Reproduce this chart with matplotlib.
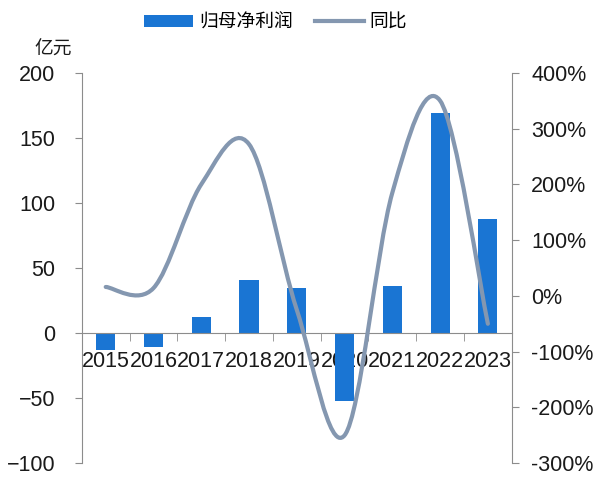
import matplotlib
matplotlib.use("Agg")
import matplotlib.pyplot as plt
from matplotlib.path import Path
from matplotlib.patches import PathPatch
from matplotlib.lines import Line2D
from matplotlib.patches import Patch
import numpy as np

plt.rcParams['font.family'] = ['Liberation Sans', 'Noto Sans CJK SC', 'DejaVu Sans']

years = ["2015", "2016", "2017", "2018", "2019", "2020", "2021", "2022", "2023"]
profit = [-13, -11, 12, 41, 35, -52, 36, 169, 88]          # 归母净利润, 亿元
yoy = [16, 14, 200, 272, -25, -250, 185, 350, -50]          # 同比, %

bar_color = "#1a75d3"
line_color = "#8497b0"
axis_color = "#8c8c8c"
text_color = "#1a1a1a"

fig = plt.figure(figsize=(5.93, 4.79), dpi=100)
ax = fig.add_axes([0.138, 0.033, 0.725, 0.815])
ax2 = ax.twinx()

x = np.arange(len(years))
ax.bar(x, profit, width=0.4, color=bar_color, zorder=2)
ax.set_xlim(-0.5, len(years) - 0.5)
ax.set_ylim(-100, 200)
ax.set_yticks(np.arange(-100, 201, 50))

# 平滑折线（类似 Excel 的贝塞尔平滑）
pts = np.column_stack([x, yoy]).astype(float)
ext = np.vstack([pts[0], pts, pts[-1]])
verts = [tuple(pts[0])]
codes = [Path.MOVETO]
for i in range(len(pts) - 1):
    p0, p1, p2, p3 = ext[i], ext[i + 1], ext[i + 2], ext[i + 3]
    c1 = p1 + (p2 - p0) / 6
    c2 = p2 - (p3 - p1) / 6
    verts += [tuple(c1), tuple(c2), tuple(p2)]
    codes += [Path.CURVE4] * 3
ax2.add_patch(PathPatch(Path(verts, codes), facecolor="none", edgecolor=line_color,
                        lw=3, capstyle="round", zorder=3))
ax2.set_ylim(-300, 400)
ax2.set_yticks(np.arange(-300, 401, 100))
ax2.set_yticklabels([f"{v}%" for v in range(-300, 401, 100)])

for a in (ax, ax2):
    a.spines["top"].set_visible(False)
ax.spines["right"].set_visible(False)
ax2.spines["left"].set_visible(False)
ax2.spines["bottom"].set_visible(False)
ax.spines["bottom"].set_position(("data", 0))
ax.spines["bottom"].set_color(axis_color)
ax.spines["left"].set_color(axis_color)
ax2.spines["right"].set_color(axis_color)

ax.set_xticks(x)
ax.set_xticklabels(years)
ax.set_xticks(np.arange(-0.5, len(years), 1), minor=True)
ax.tick_params(axis="x", which="major", length=0, pad=13, labelsize=15.5, colors=text_color)
ax.tick_params(axis="x", which="minor", length=6, direction="out", color=axis_color)
ax.tick_params(axis="y", length=5, pad=14, labelsize=15.5, colors=text_color, color=axis_color)
ax2.tick_params(axis="y", length=5, pad=9, labelsize=15.5, colors=text_color, color=axis_color)

fig.text(0.089, 0.898, "亿元", fontsize=13.5, ha="center", va="center",
         family=["Noto Sans CJK SC", "DejaVu Sans"], color=text_color)

handles = [Patch(facecolor=bar_color, edgecolor="none"),
           Line2D([0], [0], color=line_color, lw=3)]
fig.legend(handles, ["归母净利润", "同比"], loc="center", bbox_to_anchor=(0.465, 0.954),
           ncol=2, frameon=False, handlelength=2.6, handleheight=0.6, columnspacing=1.2,
           handletextpad=0.3, prop={"family": ["Noto Sans CJK SC", "DejaVu Sans"], "size": 13.5})

fig.savefig("out.png", dpi=100)
